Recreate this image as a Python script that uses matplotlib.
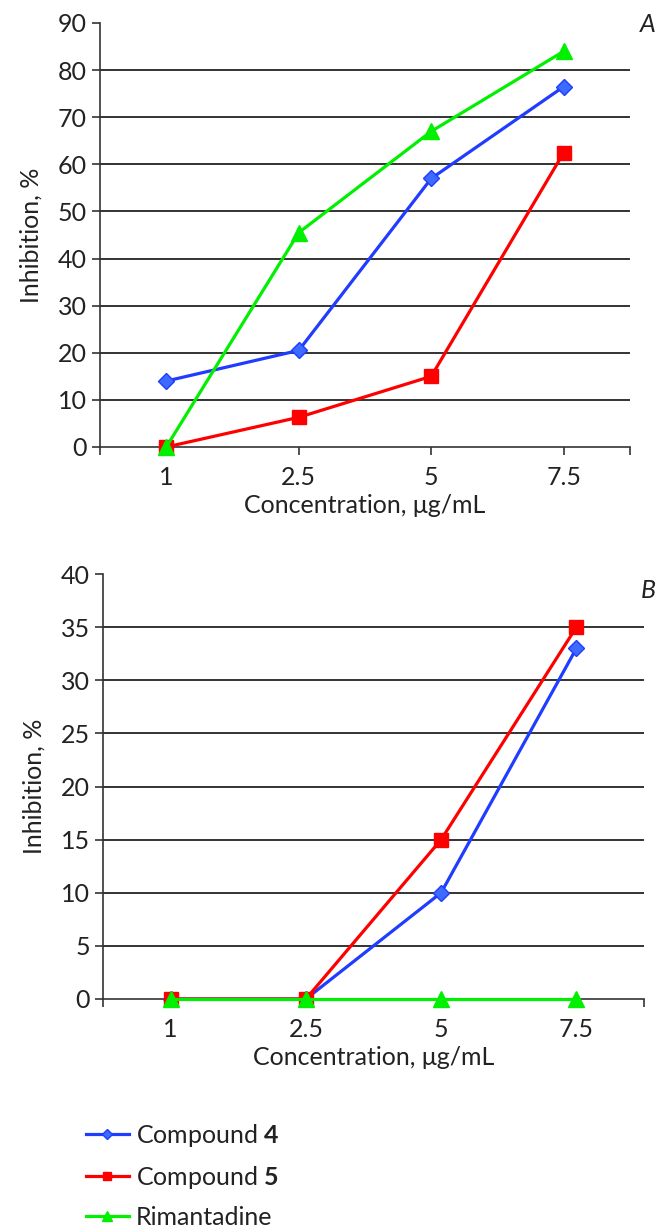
import numpy as np
import matplotlib.pyplot as plt
from matplotlib.lines import Line2D

plt.rcParams['font.family'] = ['Lato', 'DejaVu Sans']
plt.rcParams['mathtext.fontset'] = 'custom'
plt.rcParams['mathtext.bf'] = 'Lato:bold'
plt.rcParams['mathtext.rm'] = 'Lato'

conc = ['1', '2.5', '5', '7.5']

# panel A
a_comp4 = [14, 20.5, 57, 76.5]
a_comp5 = [0, 6.3, 15, 62.5]
a_rim = [0, 45.5, 67, 84]

# panel B
b_comp4 = [0, 0, 10, 33]
b_comp5 = [0, 0, 15, 35]
b_rim = [0, 0, 0, 0]

names = ['Compound $\\mathbf{4}$', 'Compound $\\mathbf{5}$', 'Rimantadine']

blue = '#1f3cff'
red = '#ff0000'
green = '#00f000'
txt = '#222222'
styles = [dict(color=blue, marker='D', ms=8, mfc='#3d6bff', mec=blue),
          dict(color=red, marker='s', ms=10),
          dict(color=green, marker='^', ms=11)]

W, H = 657, 1227
fig = plt.figure(figsize=(W / 100, H / 100), dpi=100)

ax1 = fig.add_axes([100 / W, 1 - 447 / H, 530 / W, 424 / H])
ax2 = fig.add_axes([103 / W, 1 - 999 / H, 541 / W, 425 / H])


def draw(ax, series, ymax, step):
    x = np.arange(len(conc))
    for i, (vals, st) in enumerate(zip(series, styles)):
        ax.plot(x, vals, lw=2.3, zorder=3 + i, clip_on=False, **st)
    ax.set_xlim(-0.5, len(conc) - 0.5)
    ax.set_ylim(0, ymax)
    ax.set_xticks(x)
    ax.set_xticklabels(conc)
    ax.set_xticks([-0.5, len(conc) - 0.5], minor=True)
    ax.set_yticks(np.arange(0, ymax + 1, step))
    ax.yaxis.grid(True, color='#111111', lw=1.2)
    ax.set_axisbelow(True)
    gl = ax.get_ygridlines()
    gl[0].set_visible(False)
    gl[-1].set_visible(False)
    for s in ['top', 'right']:
        ax.spines[s].set_visible(False)
    for s in ['left', 'bottom']:
        ax.spines[s].set_color('#333333')
        ax.spines[s].set_linewidth(1.2)
    ax.tick_params(which='both', direction='out', length=6, width=1.2,
                   color='#333333', labelsize=18, labelcolor=txt)
    ax.tick_params(axis='x', pad=8)
    ax.set_xlabel('Concentration, μg/mL', fontsize=18, color=txt, labelpad=3)
    ax.set_ylabel('Inhibition, %', fontsize=18, color=txt, labelpad=11)


draw(ax1, [a_comp4, a_comp5, a_rim], 90, 10)
draw(ax2, [b_comp4, b_comp5, b_rim], 40, 5)

fig.text(648 / W, 1 - 25 / H, 'A', fontsize=18, style='italic', color=txt,
         ha='center', va='center')
fig.text(648 / W, 1 - 590 / H, 'B', fontsize=18, style='italic', color=txt,
         ha='center', va='center')

handles = []
for st in styles:
    s = dict(st)
    s['ms'] = st['ms'] * 0.6
    handles.append(Line2D([], [], lw=2.3, **s))
fig.legend(handles, names, loc='upper left', bbox_to_anchor=(76 / W, 1 - 1112 / H),
           frameon=False, fontsize=18, handlelength=1.7, handletextpad=0.3,
           labelspacing=0.6, labelcolor=txt, borderaxespad=0)

fig.savefig('out.png', dpi=100)
